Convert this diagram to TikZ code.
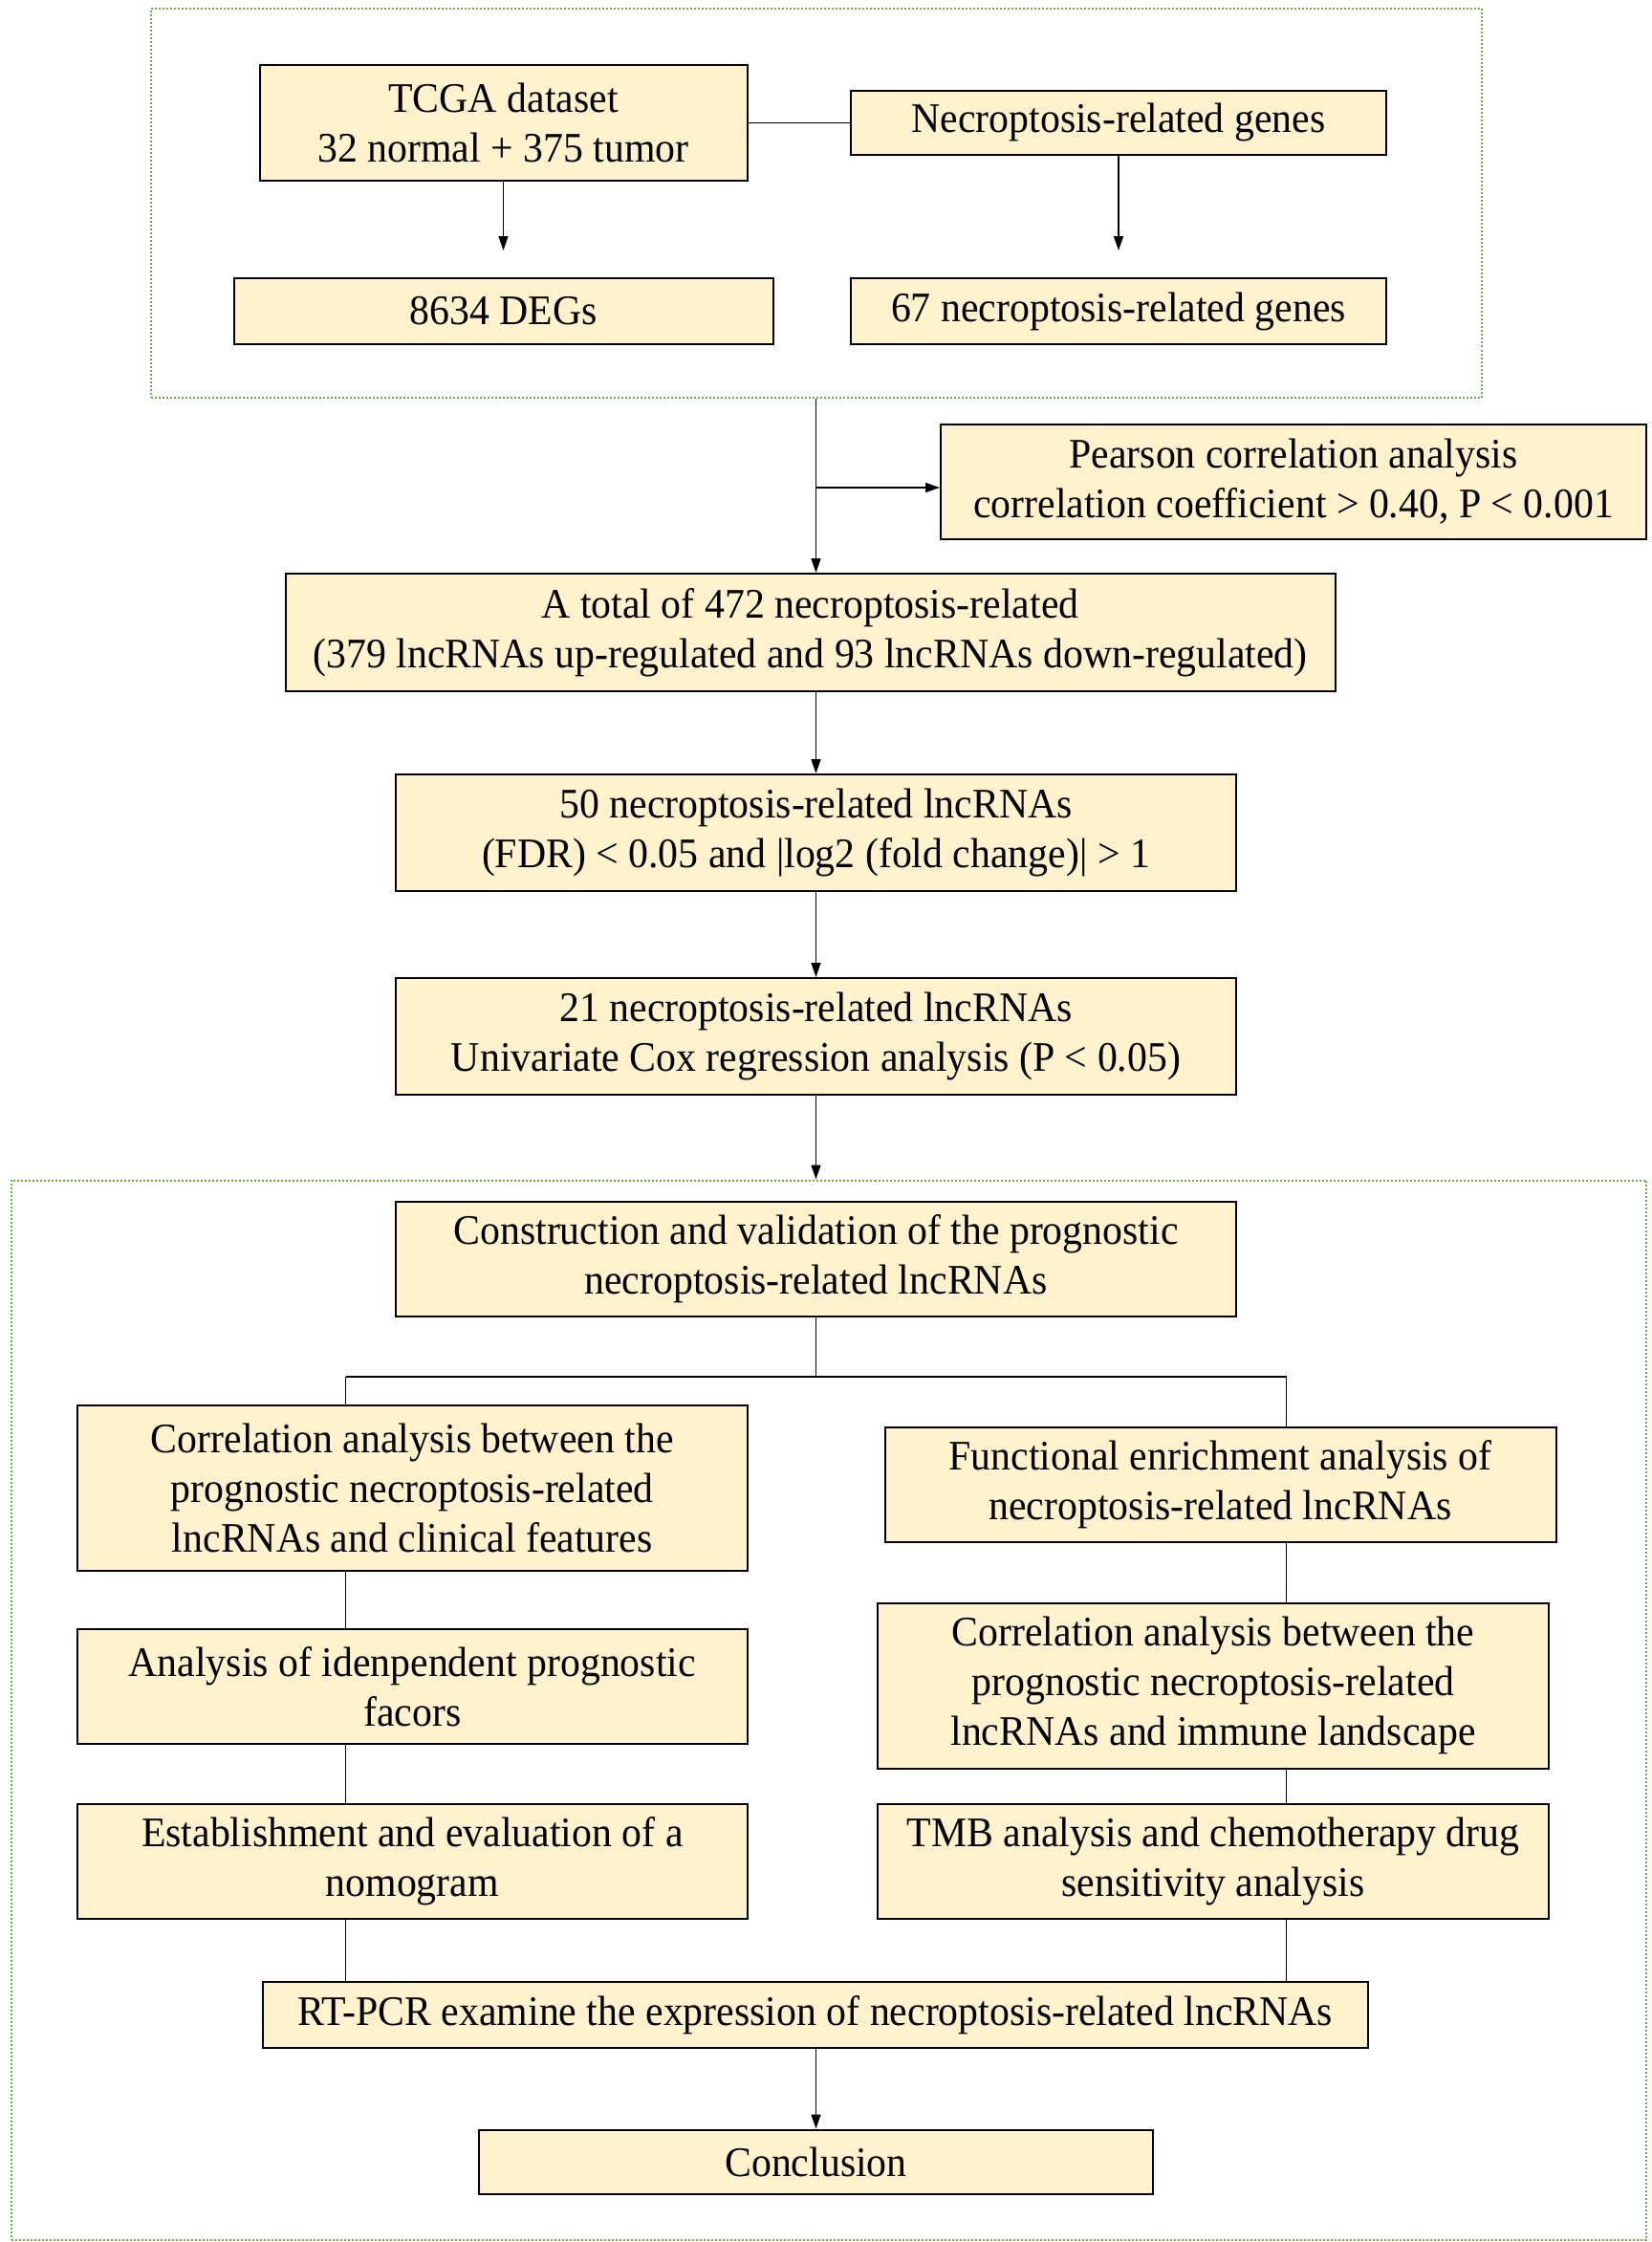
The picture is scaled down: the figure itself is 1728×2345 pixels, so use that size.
\documentclass[tikz,border=0pt]{standalone}
\usepackage{fontspec}
\setmainfont{Liberation Serif}[FakeStretch=0.95]
\usetikzlibrary{arrows.meta}
\definecolor{boxfill}{HTML}{FFF2CC}
\definecolor{dotgreen}{HTML}{70AD47}
\begin{document}
\begin{tikzpicture}[x=0.5pt,y=-0.5pt,
  fbox/.style={draw=black, line width=1pt, fill=boxfill, inner sep=0pt, align=center,
    font=\fontsize{22}{26}\selectfont},
  conn/.style={line width=0.75pt},
  arr/.style={conn,-{Triangle[length=7.5pt,width=5pt]}},
  frame/.style={draw=dotgreen, line width=1pt, dash pattern=on 1pt off 1pt, inner sep=0pt}]
\useasboundingbox (0,0) rectangle (1728,2345);

% frames
\node[frame, minimum width=696pt, minimum height=203.25pt] (f1) at (853.5,212.25) {};
\node[frame, minimum width=855pt, minimum height=554.25pt] (f2) at (867,1788.75) {};

% top part
\node[fbox, minimum width=255pt, minimum height=60.75pt] (tcga) at (526.5,128.25) {TCGA dataset\\32 normal + 375 tumor};
\node[fbox, minimum width=282pt, minimum height=34.5pt] (degs) at (526.5,325.5) {8634 DEGs};
\node[fbox, minimum width=280pt, minimum height=33.75pt] (ngenes) at (1170,128.25) {Necroptosis-related genes};
\node[fbox, minimum width=280pt, minimum height=34.5pt] (n67) at (1170,325.5) {67 necroptosis-related genes};

\coordinate (a1) at (526.5,262);
\coordinate (a2) at (1170,262);
\draw[arr] (tcga.south) -- (a1);
\draw[arr] (ngenes.south) -- (a2);
\draw[conn] (tcga.east) -- (ngenes.west);

\node[fbox, minimum width=369pt, minimum height=60pt] (pearson) at (1353,504) {Pearson correlation analysis\\correlation coefficient > 0.40, P < 0.001};
\node[fbox, minimum width=549pt, minimum height=61.5pt] (atot) at (847.5,661.5) {A total of 472 necroptosis-related\\(379 lncRNAs up-regulated and 93 lncRNAs down-regulated)};
\node[fbox, minimum width=439.5pt, minimum height=60.75pt] (n50) at (853.5,870.75) {50 necroptosis-related lncRNAs\\(FDR) < 0.05 and |log2 (fold change)| > 1};
\node[fbox, minimum width=439.5pt, minimum height=60.75pt] (n21) at (853.5,1083.75) {21 necroptosis-related lncRNAs\\Univariate Cox regression analysis (P < 0.05)};

\coordinate (j1) at (853.5,510);
\draw[arr] (f1.south -| n50.north) -- (atot.north -| n50.north);
\draw[arr] (j1) -- (j1 -| pearson.west);
\draw[arr] (atot.south -| n50.north) -- (n50.north);
\draw[arr] (n50.south) -- (n21.north);
\draw[arr] (n21.south) -- (f2.north -| n21.south);

% bottom part
\node[fbox, minimum width=439.5pt, minimum height=60pt] (cons) at (853.5,1317) {Construction and validation of the prognostic\\necroptosis-related lncRNAs};
\node[fbox, minimum width=350.25pt, minimum height=86.25pt] (corrc) at (431.25,1556.25) {Correlation analysis between the\\prognostic necroptosis-related\\lncRNAs and clinical features};
\node[fbox, minimum width=350.25pt, minimum height=60pt] (indep) at (431.25,1764) {Analysis of idenpendent prognostic\\facors};
\node[fbox, minimum width=350.25pt, minimum height=60pt] (nomo) at (431.25,1947) {Establishment and evaluation of a\\nomogram};
\node[fbox, minimum width=351pt, minimum height=60pt] (func) at (1276.5,1552.5) {Functional enrichment analysis of\\necroptosis-related lncRNAs};
\node[fbox, minimum width=351pt, minimum height=86.25pt] (corri) at (1269,1763.25) {Correlation analysis between the\\prognostic necroptosis-related\\lncRNAs and immune landscape};
\node[fbox, minimum width=351pt, minimum height=60pt] (tmb) at (1269,1947) {TMB analysis and chemotherapy drug\\sensitivity analysis};
\node[fbox, minimum width=578.25pt, minimum height=34.5pt] (rtpcr) at (852.75,2107.5) {RT-PCR examine the expression of necroptosis-related lncRNAs};
\node[fbox, minimum width=352.5pt, minimum height=33.75pt] (concl) at (853.5,2261.25) {Conclusion};

\coordinate (jm) at (853.5,1440);
\coordinate (jl) at (361.5,1440);
\coordinate (jr) at (1345.5,1440);
\draw[conn] (cons.south) -- (jm);
\draw[conn] (jl) -- (jr);
\draw[conn] (jl) -- (jl |- corrc.north);
\draw[conn] (jr) -- (jr |- func.north);
\draw[conn] (corrc.south -| jl) -- (indep.north -| jl);
\draw[conn] (indep.south -| jl) -- (nomo.north -| jl);
\draw[conn] (nomo.south -| jl) -- (rtpcr.north -| jl);
\draw[conn] (func.south -| jr) -- (corri.north -| jr);
\draw[conn] (corri.south -| jr) -- (tmb.north -| jr);
\draw[conn] (tmb.south -| jr) -- (rtpcr.north -| jr);
\draw[arr] (rtpcr.south -| concl.north) -- (concl.north);
\end{tikzpicture}
\end{document}
